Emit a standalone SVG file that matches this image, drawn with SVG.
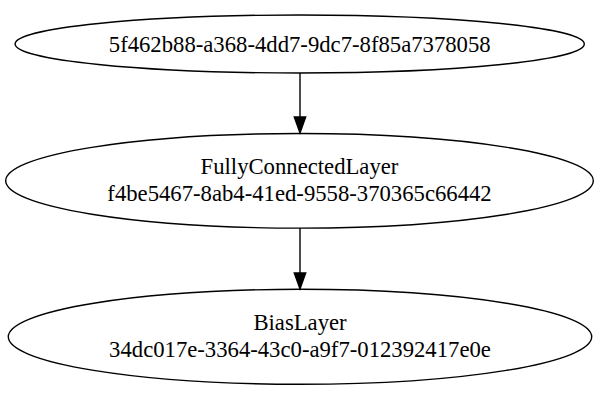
<svg xmlns="http://www.w3.org/2000/svg" width="600" height="400" viewBox="0 0 600 400">
<defs>
<style>
.n ellipse{fill:none;stroke:#000;stroke-width:1.4}
.n text{font-family:"Liberation Serif","Times New Roman",serif;font-size:22.7px;text-anchor:middle;fill:#000}
.e line{stroke:#000;stroke-width:1.4}
.e path{fill:#000;stroke:#000;stroke-width:1.4}
</style>
</defs>
<rect width="600" height="400" fill="#fff"/>
<g class="e">
<line x1="300" y1="73" x2="300" y2="117"/>
<path d="M294.3,117 L300,133 L305.7,117 Z"/>
<line x1="300" y1="228" x2="300" y2="273"/>
<path d="M294.3,273 L300,289 L305.7,273 Z"/>
</g>
<g id="n1" class="n"><ellipse cx="299.7" cy="44" rx="284.6" ry="29"/><text x="299.7" y="51.5">5f462b88-a368-4dd7-9dc7-8f85a7378058</text></g>
<g id="n2" class="n"><ellipse cx="299.5" cy="180.8" rx="293.8" ry="47.3"/><text x="299.5" y="174">FullyConnectedLayer</text><text x="299.5" y="201">f4be5467-8ab4-41ed-9558-370365c66442</text></g>
<g id="n3" class="n"><ellipse cx="300" cy="336.8" rx="291.7" ry="47.5"/><text x="300" y="329.5">BiasLayer</text><text x="300" y="356.5">34dc017e-3364-43c0-a9f7-012392417e0e</text></g>
</svg>
